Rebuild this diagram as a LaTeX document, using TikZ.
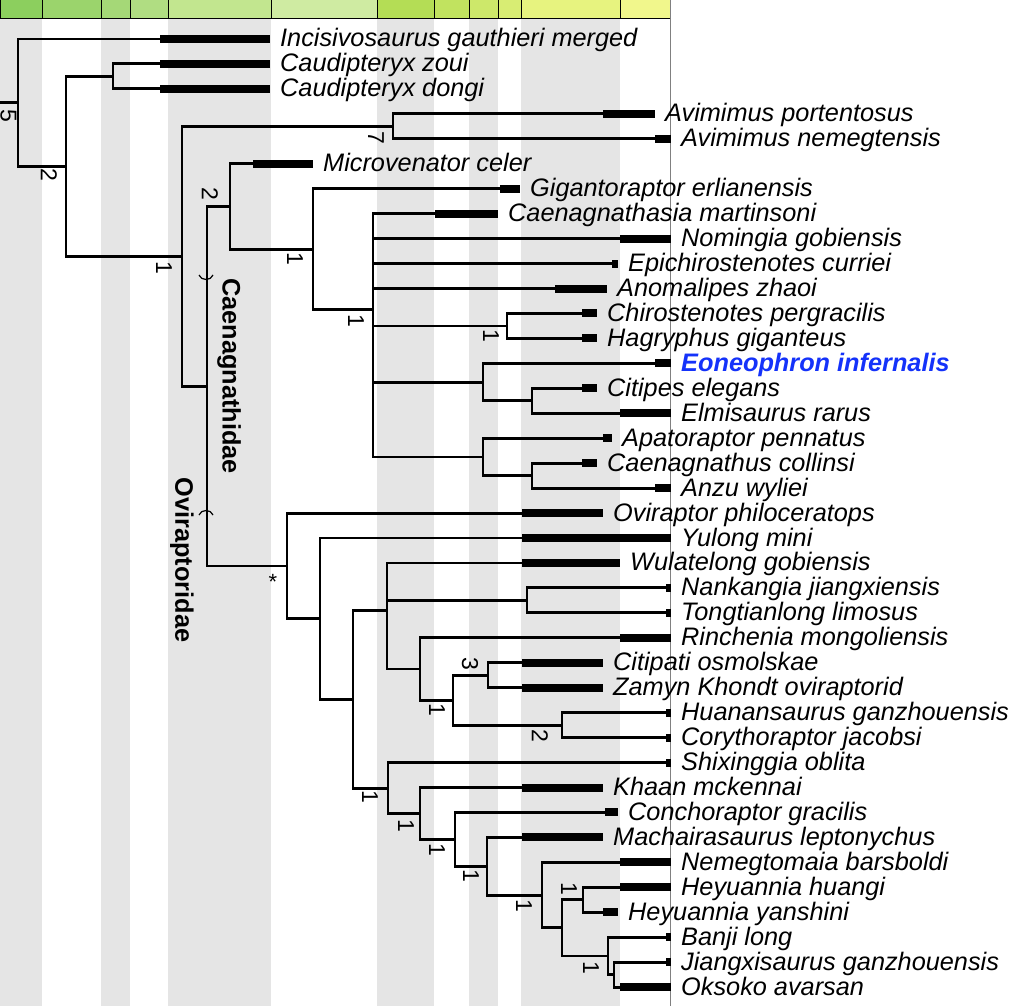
\documentclass[tikz,border=0pt]{standalone}
\usepackage{fontspec}
\setmainfont{Liberation Sans}
\usepackage{xcolor}
\usepackage{tikz}
\usetikzlibrary{calc}
\definecolor{ts1}{HTML}{8CCF5E}
\definecolor{ts2}{HTML}{9BD46C}
\definecolor{ts3}{HTML}{A5D877}
\definecolor{ts4}{HTML}{B0DD82}
\definecolor{ts5}{HTML}{C2E68F}
\definecolor{ts6}{HTML}{CFEBA2}
\definecolor{ts7}{HTML}{B4DD55}
\definecolor{ts8}{HTML}{C1E35F}
\definecolor{ts9}{HTML}{CDE86A}
\definecolor{ts10}{HTML}{D8ED73}
\definecolor{ts11}{HTML}{E7F37F}
\definecolor{ts12}{HTML}{F1F78C}
\definecolor{binGray}{HTML}{E5E5E5}
\definecolor{eoblue}{RGB}{20,50,250}
\tikzstyle{branchline} = [draw, line width=2.9pt]
\tikzstyle{agebar} = [draw, line width=8pt]

\begin{document}
\begin{tikzpicture}[x=1pt, y=-1pt,
taxon/.style={anchor=base west, inner sep=0pt,
font=\fontsize{25.3}{26}\selectfont\itshape},
focal/.style={taxon, text=eoblue,
font=\fontsize{25.3}{26}\selectfont\bfseries\itshape},
support/.style={rotate=-90, inner sep=0pt, font=\fontsize{23}{23}\selectfont},
cladename/.style={rotate=-90, inner sep=0pt,
font=\fontsize{25.3}{26}\selectfont\bfseries}]
\useasboundingbox (0,0) rectangle (1024,1006);
%% Time bins
\foreach \xa/\xb in {0/42, 101/130, 168/271, 377/434, 469/498, 521/620}
  \fill[binGray] (\xa,19) rectangle (\xb,1006);
\foreach \xa/\xb/\col in {0/42/ts1, 42/101/ts2, 101/130/ts3, 130/168/ts4,
  168/271/ts5, 271/377/ts6, 377/434/ts7, 434/469/ts8, 469/498/ts9,
  498/521/ts10, 521/620/ts11, 620/670.5/ts12}
  \filldraw[fill=\col, draw=black, line width=1pt] (\xa,0) rectangle (\xb,19);
\draw[gray, line width=1.3pt] (670.5,0) -- (670.5,1006);
%% Internal nodes
\coordinate (base) at (0,102.7);
\coordinate (nRoot) at (18,102.7);
\coordinate (nA) at (66,166.4);
\coordinate (nCau) at (113,76.4);
\coordinate (nB) at (182,256.4);
\coordinate (nAvi) at (393,126.4);
\coordinate (nC) at (207,386.3);
\coordinate (nD) at (230,206.6);
\coordinate (nE) at (313,249.3);
\coordinate (nF) at (373,309.9);
\coordinate (nChi) at (507,326.0);
\coordinate (nEon) at (483,382.1);
\coordinate (nCitp) at (532,400.8);
\coordinate (nApa) at (483,457.0);
\coordinate (nCae) at (532,475.7);
\coordinate (nI) at (287,566.0);
\coordinate (nJ) at (320,618.8);
\coordinate (nK) at (353,699.5);
\coordinate (nL) at (387,610.8);
\coordinate (nNan) at (527,600.4);
\coordinate (nN) at (420,669.0);
\coordinate (nO) at (453,700.2);
\coordinate (nCit) at (488,675.3);
\coordinate (nHua) at (562,725.2);
\coordinate (nS) at (388,788.1);
\coordinate (nT) at (420,813.5);
\coordinate (nU) at (455,839.4);
\coordinate (nV) at (487,866.3);
\coordinate (nW) at (542,895.2);
\coordinate (nX) at (562,927.9);
\coordinate (nHey) at (583,899.8);
\coordinate (nZ) at (608,956.0);
\coordinate (nJx) at (614,974.7);
%% Branches
\path[branchline] (base) -- (nRoot);
\foreach \a/\b in {nRoot/nA, nA/nCau, nA/nB, nB/nAvi, nB/nC, nC/nD, nC/nI,
  nD/nE, nE/nF, nF/nChi, nF/nEon, nF/nApa, nEon/nCitp, nApa/nCae,
  nI/nJ, nJ/nK, nK/nL, nK/nS, nL/nNan, nL/nN, nN/nO, nO/nCit, nO/nHua,
  nS/nT, nT/nU, nU/nV, nV/nW, nW/nX, nX/nHey, nX/nZ, nZ/nJx}
  \path[branchline] (\a) |- (\b);
%% Taxa
\foreach \i/\up/\xs/\xe/\sty/\lbl [evaluate=\i as \yy using 39+(\i-1)*24.95] in {
  1/nRoot/160/270/taxon/Incisivosaurus gauthieri merged,
  2/nCau/160/270/taxon/Caudipteryx zoui,
  3/nCau/160/270/taxon/Caudipteryx dongi,
  4/nAvi/603/655/taxon/Avimimus portentosus,
  5/nAvi/655/671/taxon/Avimimus nemegtensis,
  6/nD/253/313/taxon/Microvenator celer,
  7/nE/500/520/taxon/Gigantoraptor erlianensis,
  8/nF/435/498/taxon/Caenagnathasia martinsoni,
  9/nF/620/671/taxon/Nomingia gobiensis,
  10/nF/612/618/taxon/Epichirostenotes curriei,
  11/nF/555/607/taxon/Anomalipes zhaoi,
  12/nChi/582/597/taxon/Chirostenotes pergracilis,
  13/nChi/582/597/taxon/Hagryphus giganteus,
  14/nEon/655/671/focal/Eoneophron infernalis,
  15/nCitp/582/597/taxon/Citipes elegans,
  16/nCitp/620/671/taxon/Elmisaurus rarus,
  17/nApa/603/612/taxon/Apatoraptor pennatus,
  18/nCae/582/597/taxon/Caenagnathus collinsi,
  19/nCae/655/671/taxon/Anzu wyliei,
  20/nI/522/603/taxon/Oviraptor philoceratops,
  21/nJ/522/671/taxon/Yulong mini,
  22/nL/522/620/taxon/Wulatelong gobiensis,
  23/nNan/666/671/taxon/Nankangia jiangxiensis,
  24/nNan/666/671/taxon/Tongtianlong limosus,
  25/nN/620/671/taxon/Rinchenia mongoliensis,
  26/nCit/522/603/taxon/Citipati osmolskae,
  27/nCit/522/603/taxon/Zamyn Khondt oviraptorid,
  28/nHua/666/671/taxon/Huanansaurus ganzhouensis,
  29/nHua/666/671/taxon/Corythoraptor jacobsi,
  30/nS/666/671/taxon/Shixinggia oblita,
  31/nT/522/603/taxon/Khaan mckennai,
  32/nU/605/618/taxon/Conchoraptor gracilis,
  33/nV/522/603/taxon/Machairasaurus leptonychus,
  34/nW/620/671/taxon/Nemegtomaia barsboldi,
  35/nHey/620/671/taxon/Heyuannia huangi,
  36/nHey/603/618/taxon/Heyuannia yanshini,
  37/nZ/666/671/taxon/Banji long,
  38/nJx/666/671/taxon/Jiangxisaurus ganzhouensis,
  39/nJx/620/671/taxon/Oksoko avarsan}{
  \coordinate (s\i) at (\xs,\yy);
  \coordinate (e\i) at (\xe,\yy);
  \path[branchline] (\up) |- (s\i);
  \path[agebar] (s\i) -- (e\i);
  \node[\sty] (t\i) at ([xshift=10pt,yshift=-8pt]e\i) {\lbl};
}
%% Support values
\node[support] (sup5) at (8.5,116) {5};
\node[support] (supA) at (49,175) {2};
\node[support] (supB) at (164,268) {1};
\node[support] (supAvi) at (376,138) {7};
\node[support] (supD) at (210,194) {2};
\node[support] (supE) at (295,259) {1};
\node[support] (supF) at (356,321) {1};
\node[support] (supChi) at (491,336) {1};
\node[support] (supCit) at (470,664) {3};
\node[support] (supO) at (437,710) {1};
\node[support] (supHua) at (540,736) {2};
\node[support] (supS) at (370,797) {1};
\node[support] (supT) at (406,826) {1};
\node[support] (supU) at (437,850) {1};
\node[support] (supV) at (471,876) {1};
\node[support] (supW) at (524,906) {1};
\node[support] (supHey) at (569,889) {1};
\node[support] (supZ) at (591,968) {1};
\node[inner sep=0pt, font=\fontsize{22}{22}\selectfont] (ast) at (273,582) {*};
%% Clades
\coordinate (mCae) at (206,278);
\coordinate (mOvi) at (206,512);
\draw[line width=1.2pt] ($(mCae)+(-7,-3)$) .. controls ($(mCae)+(-5,3)$) and ($(mCae)+(5,3)$) .. ($(mCae)+(7,-3)$);
\draw[line width=1.2pt] ($(mOvi)+(-7,3)$) .. controls ($(mOvi)+(-5,-3)$) and ($(mOvi)+(5,-3)$) .. ($(mOvi)+(7,3)$);
\node[cladename] (cCae) at (229,376) {Caenagnathidae};
\node[cladename] (cOvi) at (182,560) {Oviraptoridae};
\end{tikzpicture}
\end{document}
